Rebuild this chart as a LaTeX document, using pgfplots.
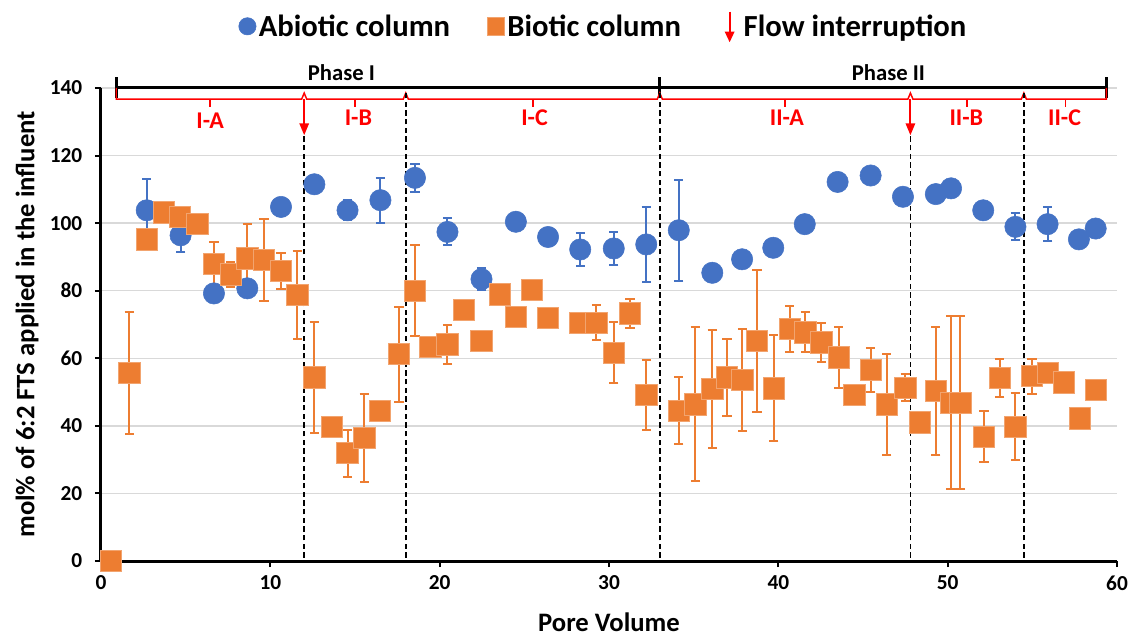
\documentclass[border=0pt]{standalone}
\usepackage{fontspec}
\setmainfont{Carlito}
\usepackage{pgfplots}
\pgfplotsset{compat=1.18}
\usepackage{pgfplotstable}
\usetikzlibrary{arrows.meta}
\definecolor{cblue}{HTML}{4472C4}
\definecolor{corange}{HTML}{ED7D31}
\definecolor{cgrid}{HTML}{D9D9D9}

\pgfplotstableread{
x y e
0.6 0 0
2.7 103.8 9.3
4.7 96.4 5
6.67 79.2 0
8.64 80.7 0
10.63 104.8 0
12.6 111.5 0
14.56 103.8 3
16.5 106.8 6.7
18.54 113.4 4.2
20.46 97.4 4
22.47 83.4 3.2
24.5 100.4 0
26.4 95.9 0
28.3 92.2 5
30.28 92.5 5
32.2 93.7 11
34.12 97.9 15
36.1 85.3 0
37.86 89.3 0
39.7 92.7 0
41.56 99.7 0
43.5 112.2 0
45.45 114.1 0
47.36 107.8 0
49.3 108.6 0
50.2 110.3 0
52.1 103.8 0
54.0 98.9 4
55.9 99.7 5
57.75 95.2 0
58.74 98.4 0
}\abiotic

\pgfplotstableread{
x y e
0.6 0 0
1.67 55.7 18
2.7 95.2 0
3.72 103.2 0
4.66 101.9 0
5.69 99.7 0
6.67 87.9 6.4
7.66 84.8 3.8
8.64 89.6 10
9.62 89.1 12
10.63 85.9 5.4
11.59 78.7 13
12.6 54.3 16.4
13.62 39.7 0
14.56 31.9 7
15.55 36.5 13
16.47 44.5 0
17.6 61.2 14
18.54 80.0 13.4
19.46 63.4 0
20.46 64.1 5.8
21.43 74.3 0
22.47 65.2 3
23.55 78.9 0
24.5 72.3 0
25.46 80.2 0
26.4 72.0 0
28.3 70.5 1
29.26 70.5 5.2
30.28 61.6 9
31.23 73.3 4.3
32.2 49.1 10.4
34.12 44.5 9.9
35.1 46.4 22.8
36.1 50.9 17.4
36.97 54.3 11.5
37.88 53.6 15
38.74 65.2 21
39.73 51.1 15.7
40.67 68.6 6.8
41.6 67.7 5.9
42.54 64.7 5.8
43.57 60.3 9
44.5 49.1 0
45.45 56.5 6.5
46.4 46.4 14.9
47.5 51.3 4
48.35 41.0 0
49.3 50.4 19
50.2 46.8 25.6
50.75 46.8 25.6
52.14 36.8 7.6
53.07 54.2 5.7
54.0 39.7 9.9
54.97 54.7 5.2
55.9 55.7 0
56.86 52.9 0
57.8 42.2 0
58.74 50.6 0
}\biotic

\begin{document}
\begin{tikzpicture}
\begin{axis}[
  scale only axis, width=762pt, height=354.75pt,
  xmin=0, xmax=60, ymin=0, ymax=140,
  xtick={0,10,...,60}, ytick={0,20,...,140},
  axis x line*=bottom, axis y line*=left,
  axis line style={line width=2.25pt,-},
  tick style={black, line width=1.5pt},
  tick align=outside, major tick length=4.5pt,
  ymajorgrids, grid style={cgrid, line width=1.1pt},
  clip=false,
  /pgf/number format/assume math mode=true,
  tick label style={font=\fontsize{16}{16}\selectfont\bfseries},
  yticklabel style={xshift=-6pt},
  xticklabel style={yshift=-3pt},
  xlabel={Pore Volume},
  ylabel={mol\% of 6:2 FTS applied in the influent},
  label style={font=\fontsize{20}{20}\selectfont\bfseries},
  xlabel style={at={(axis description cs:0.5,-0.129)}, anchor=center},
  ylabel style={at={(axis description cs:-0.0728,0.5)}, anchor=center},
  legend style={at={(axis description cs:0.495,1.129)}, anchor=center,
    draw=none, fill=none, font=\fontsize{23}{23}\selectfont\bfseries,
    /tikz/every even column/.append style={column sep=26pt}},
  legend columns=3,
  legend cell align=left,
]
\addplot[only marks, mark=*, mark size=8pt, color=cblue,
  mark options={fill=cblue, draw=cblue},
  legend image post style={mark size=6.5pt},
  error bars/.cd, y dir=both, y explicit,
  error bar style={line width=1.5pt, cblue},
  error mark options={rotate=90, mark size=3.5pt, line width=1.5pt, cblue}]
  table[x=x, y=y, y error=e] {\abiotic};
\addlegendentry{Abiotic column}
\addplot[only marks, mark=square*, mark size=8pt, color=corange,
  mark options={fill=corange, draw=corange!70!white, line width=0.6pt},
  legend image post style={mark size=6.5pt},
  error bars/.cd, y dir=both, y explicit,
  error bar style={line width=1.5pt, corange},
  error mark options={rotate=90, mark size=3.5pt, line width=1.5pt, corange}]
  table[x=x, y=y, y error=e] {\biotic};
\addlegendentry{Biotic column}
\addlegendimage{legend image code/.code={\path[draw=none,fill=none] (0cm,0pt) rectangle (0.6cm,0.1pt); \draw[red, line width=1.5pt, -{Triangle[length=8pt,width=7pt]}] (0.3cm,11pt) -- (0.3cm,-12pt);}}
\addlegendentry{Flow interruption}

% phase bracket
\draw[black, line width=2.25pt] (axis cs:0.9,140) -- (axis cs:59.37,140);
\draw[black, line width=2.25pt] (axis cs:0.9,143.2) -- (axis cs:0.9,137);
\draw[black, line width=2.25pt] (axis cs:33,143.2) -- (axis cs:33,137);
\draw[black, line width=2.25pt] (axis cs:59.37,143.2) -- (axis cs:59.37,137);
\node[font=\fontsize{17}{17}\selectfont\bfseries] at (axis cs:14.2,144.4) {Phase I};
\node[font=\fontsize{17}{17}\selectfont\bfseries] at (axis cs:46.5,144.4) {Phase II};

% sub-phase brackets
\draw[red, line width=1.1pt] (axis cs:0.9,140) -- (axis cs:0.9,136.7)
  -- (axis cs:11.85,136.7) -- (axis cs:12,138.5) -- (axis cs:12.15,136.7)
  -- (axis cs:17.85,136.7) -- (axis cs:18,138.5) -- (axis cs:18.15,136.7)
  -- (axis cs:32.85,136.7) -- (axis cs:33,138.5) -- (axis cs:33.15,136.7)
  -- (axis cs:47.65,136.7) -- (axis cs:47.8,138.5) -- (axis cs:47.95,136.7)
  -- (axis cs:54.35,136.7) -- (axis cs:54.5,138.5) -- (axis cs:54.65,136.7)
  -- (axis cs:59.37,136.7) -- (axis cs:59.37,140);
\draw[red, line width=1.1pt] (axis cs:6.45,136.7) -- (axis cs:6.45,134.3);
\draw[red, line width=1.1pt] (axis cs:15,136.7) -- (axis cs:15,134.3);
\draw[red, line width=1.1pt] (axis cs:25.5,136.7) -- (axis cs:25.5,134.3);
\draw[red, line width=1.1pt] (axis cs:40.4,136.7) -- (axis cs:40.4,134.3);
\draw[red, line width=1.1pt] (axis cs:51.15,136.7) -- (axis cs:51.15,134.3);
\draw[red, line width=1.1pt] (axis cs:56.95,136.7) -- (axis cs:56.95,134.3);
\node[red, font=\fontsize{18}{18}\selectfont\bfseries] at (axis cs:6.45,130.2) {I-A};
\node[red, font=\fontsize{18}{18}\selectfont\bfseries] at (axis cs:15.2,131.1) {I-B};
\node[red, font=\fontsize{18}{18}\selectfont\bfseries] at (axis cs:25.6,131.1) {I-C};
\node[red, font=\fontsize{18}{18}\selectfont\bfseries] at (axis cs:40.5,131.1) {II-A};
\node[red, font=\fontsize{18}{18}\selectfont\bfseries] at (axis cs:51.1,131.1) {II-B};
\node[red, font=\fontsize{18}{18}\selectfont\bfseries] at (axis cs:56.9,131.1) {II-C};

% dashed phase boundaries
\draw[black, line width=1.2pt, dash pattern=on 4pt off 2.5pt] (axis cs:12,1) -- (axis cs:12,126);
\draw[black, line width=1.2pt, dash pattern=on 4pt off 2.5pt] (axis cs:18,1) -- (axis cs:18,139.5);
\draw[black, line width=1.2pt, dash pattern=on 4pt off 2.5pt] (axis cs:33,1) -- (axis cs:33,139.5);
\draw[black, line width=1.2pt, dash pattern=on 4pt off 2.5pt] (axis cs:47.8,1) -- (axis cs:47.8,126);
\draw[black, line width=1.2pt, dash pattern=on 4pt off 2.5pt] (axis cs:54.5,1) -- (axis cs:54.5,139.5);

% flow interruption arrows
\draw[red, line width=1.5pt, -{Triangle[length=9pt,width=7pt]}] (axis cs:12,136.7) -- (axis cs:12,126);
\draw[red, line width=1.5pt, -{Triangle[length=9pt,width=7pt]}] (axis cs:47.8,136.7) -- (axis cs:47.8,126);
\end{axis}
\pgfresetboundingbox
\path ([xshift=-75.75pt,yshift=-57.75pt]current axis.south west) rectangle ([xshift=9pt,yshift=66pt]current axis.north east);
\end{tikzpicture}
\end{document}
